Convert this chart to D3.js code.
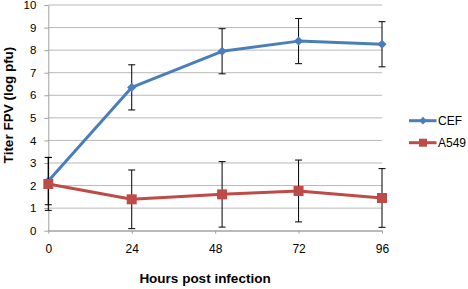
<!DOCTYPE html>
<html>
<head>
<meta charset="utf-8">
<script src="https://cdn.jsdelivr.net/npm/d3@7"></script>
<style>
  html, body { margin: 0; padding: 0; background: #fff; }
  svg { display: block; font-family: Arial, "Liberation Sans", sans-serif; }
</style>
</head>
<body>
<div id="chart"></div>
<script>
// tick labels on the x axis
var hourTicks = [0, 24, 48, 72, 96];
// sample times where the points sit in the picture
var hours = [0, 24, 50, 72, 96];
var yTicks = [0, 1, 2, 3, 4, 5, 6, 7, 8, 9, 10];

var cefValues = [2.2, 6.35, 7.95, 8.4, 8.26];
var cefErrors = [1.05, 1.0, 1.0, 1.0, 1.0];
var a549Values = [2.07, 1.39, 1.61, 1.76, 1.45];
var a549Errors = [1.17, 1.3, 1.45, 1.37, 1.3];

var seriesNames = ["CEF", "A549"];
var seriesColors = ["#4a7ebb", "#be4b48"];

var width = 468, height = 289;
var margin = {top: 5, right: 86, bottom: 58.3, left: 48.3};

var svg = d3.select("#chart").append("svg")
  .attr("width", width)
  .attr("height", height);

var x = d3.scaleLinear().domain([0, 96]).range([margin.left, width - margin.right]);
var y = d3.scaleLinear().domain([0, 10]).range([height - margin.bottom, margin.top]);

// horizontal gridlines
svg.append("g")
  .selectAll("line")
  .data(yTicks)
  .join("line")
  .attr("x1", x(0)).attr("x2", x(96))
  .attr("y1", d => y(d)).attr("y2", d => y(d))
  .attr("stroke", "#b8b8b8")
  .attr("stroke-width", 1);

// y axis
var yAxis = d3.axisLeft(y).tickValues(yTicks).tickSize(4).tickSizeOuter(0).tickPadding(8).tickFormat(d3.format("d"));
var gy = svg.append("g")
  .attr("transform", "translate(" + x(0) + ",0)")
  .call(yAxis);
gy.select(".domain").attr("stroke", "#a0a0a0");
gy.selectAll(".tick line").attr("stroke", "#a0a0a0");
gy.selectAll("text").attr("font-size", 11.5).attr("fill", "#000");

// x axis
var xAxis = d3.axisBottom(x).tickValues(hourTicks).tickSize(3).tickPadding(11).tickSizeOuter(0);
var gx = svg.append("g")
  .attr("transform", "translate(0," + y(0) + ")")
  .call(xAxis);
gx.select(".domain").attr("stroke", "#a0a0a0");
gx.selectAll(".tick line").attr("stroke", "#a0a0a0");
gx.selectAll("text").attr("font-size", 12).attr("fill", "#000");

// axis titles
svg.append("text")
  .attr("x", 205)
  .attr("y", 283)
  .attr("text-anchor", "middle")
  .attr("font-size", 13.5)
  .attr("font-weight", "bold")
  .text("Hours post infection");

svg.append("text")
  .attr("transform", "translate(13,105) rotate(-90)")
  .attr("text-anchor", "middle")
  .attr("font-size", 13.5)
  .attr("font-weight", "bold")
  .text("Titer FPV (log pfu)");

var series = [
  {name: seriesNames[0], color: seriesColors[0], values: cefValues, errors: cefErrors,
   symbol: d3.symbol().type(d3.symbolSquare).size(42), rotate: 45},
  {name: seriesNames[1], color: seriesColors[1], values: a549Values, errors: a549Errors,
   symbol: d3.symbol().type(d3.symbolSquare).size(100), rotate: 0}
];

var line = d3.line()
  .x(d => x(d.h))
  .y(d => y(d.v));

series.forEach(function(s) {
  var pts = hours.map((h, i) => ({h: h, v: s.values[i], e: s.errors[i]}));
  var g = svg.append("g");

  g.append("path")
    .datum(pts)
    .attr("d", line)
    .attr("fill", "none")
    .attr("stroke", s.color)
    .attr("stroke-width", 3)
    .attr("stroke-linejoin", "round");

  // error bars
  var eb = g.append("g").selectAll("g").data(pts).join("g");
  eb.append("line")
    .attr("x1", d => x(d.h)).attr("x2", d => x(d.h))
    .attr("y1", d => y(d.v + d.e)).attr("y2", d => y(d.v - d.e))
    .attr("stroke", "#000").attr("stroke-width", 1);
  eb.append("line")
    .attr("x1", d => x(d.h) - 3.5).attr("x2", d => x(d.h) + 3.5)
    .attr("y1", d => y(d.v + d.e)).attr("y2", d => y(d.v + d.e))
    .attr("stroke", "#000").attr("stroke-width", 1);
  eb.append("line")
    .attr("x1", d => x(d.h) - 3.5).attr("x2", d => x(d.h) + 3.5)
    .attr("y1", d => y(d.v - d.e)).attr("y2", d => y(d.v - d.e))
    .attr("stroke", "#000").attr("stroke-width", 1);

  g.append("g").selectAll("path")
    .data(pts)
    .join("path")
    .attr("d", s.symbol)
    .attr("transform", d => "translate(" + x(d.h) + "," + y(d.v) + ") rotate(" + s.rotate + ")")
    .attr("fill", s.color);
});

// legend
var legend = svg.append("g");
series.forEach(function(s, i) {
  var ly = 120.7 + i * 22;
  legend.append("line")
    .attr("x1", 409).attr("x2", 436.5)
    .attr("y1", ly).attr("y2", ly)
    .attr("stroke", s.color).attr("stroke-width", 3);
  legend.append("path")
    .attr("d", i === 0 ? d3.symbol().type(d3.symbolSquare).size(30)() : d3.symbol().type(d3.symbolSquare).size(64)())
    .attr("transform", "translate(423," + ly + ") rotate(" + s.rotate + ")")
    .attr("fill", s.color);
  legend.append("text")
    .attr("x", 438)
    .attr("y", ly + 4.5)
    .attr("font-size", 12)
    .text(s.name);
});
</script>
</body>
</html>
